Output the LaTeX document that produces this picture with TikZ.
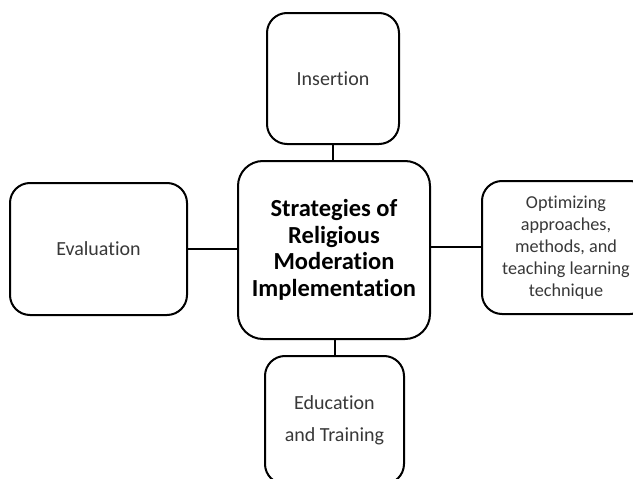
\documentclass[tikz,border=0pt]{standalone}
\usepackage{fontspec}
\setmainfont{Carlito}[Ligatures=NoCommon]
\begin{document}
\begin{tikzpicture}[x=1pt,y=-1pt,
  box/.style={draw=black, line width=2pt, rounded corners=20pt, fill=white,
    align=center, inner sep=0pt, text=black!78, font=\fontsize{20}{32}\selectfont},
  link/.style={draw=black, line width=2pt}]
\useasboundingbox (0,0) rectangle (633,479);
\clip (0,0) rectangle (633,479);
% central topic
\node[box, rounded corners=25pt, minimum width=192pt, minimum height=178pt,
  text=black, font=\bfseries\fontsize{24.5}{26.6}\selectfont]
  (core) at (334,250) {Strategies of\\Religious\\Moderation\\Implementation};
% surrounding strategies
\node[box, minimum width=132pt, minimum height=131pt] (ins) at (333,78.5) {Insertion};
\node[box, minimum width=177pt, minimum height=132pt] (eval) at (98.5,249) {Evaluation};
\node[box, minimum width=168pt, minimum height=133pt,
  font=\fontsize{18.2}{22}\selectfont] (opt) at (566,247.5)
  {Optimizing\\approaches,\\methods, and\\teaching learning\\technique};
\node[box, minimum width=139pt, minimum height=128pt] (edu) at (334.5,420)
  {Education\\and Training};
% connectors
\draw[link] (ins.south) -- (ins.south |- core.north);
\draw[link] (eval.east) -- (eval.east -| core.west);
\draw[link] (core.east |- 0,247) coordinate (ce) -- (opt.west |- ce);
\draw[link] (edu.north) -- (edu.north |- core.south);
\end{tikzpicture}
\end{document}
